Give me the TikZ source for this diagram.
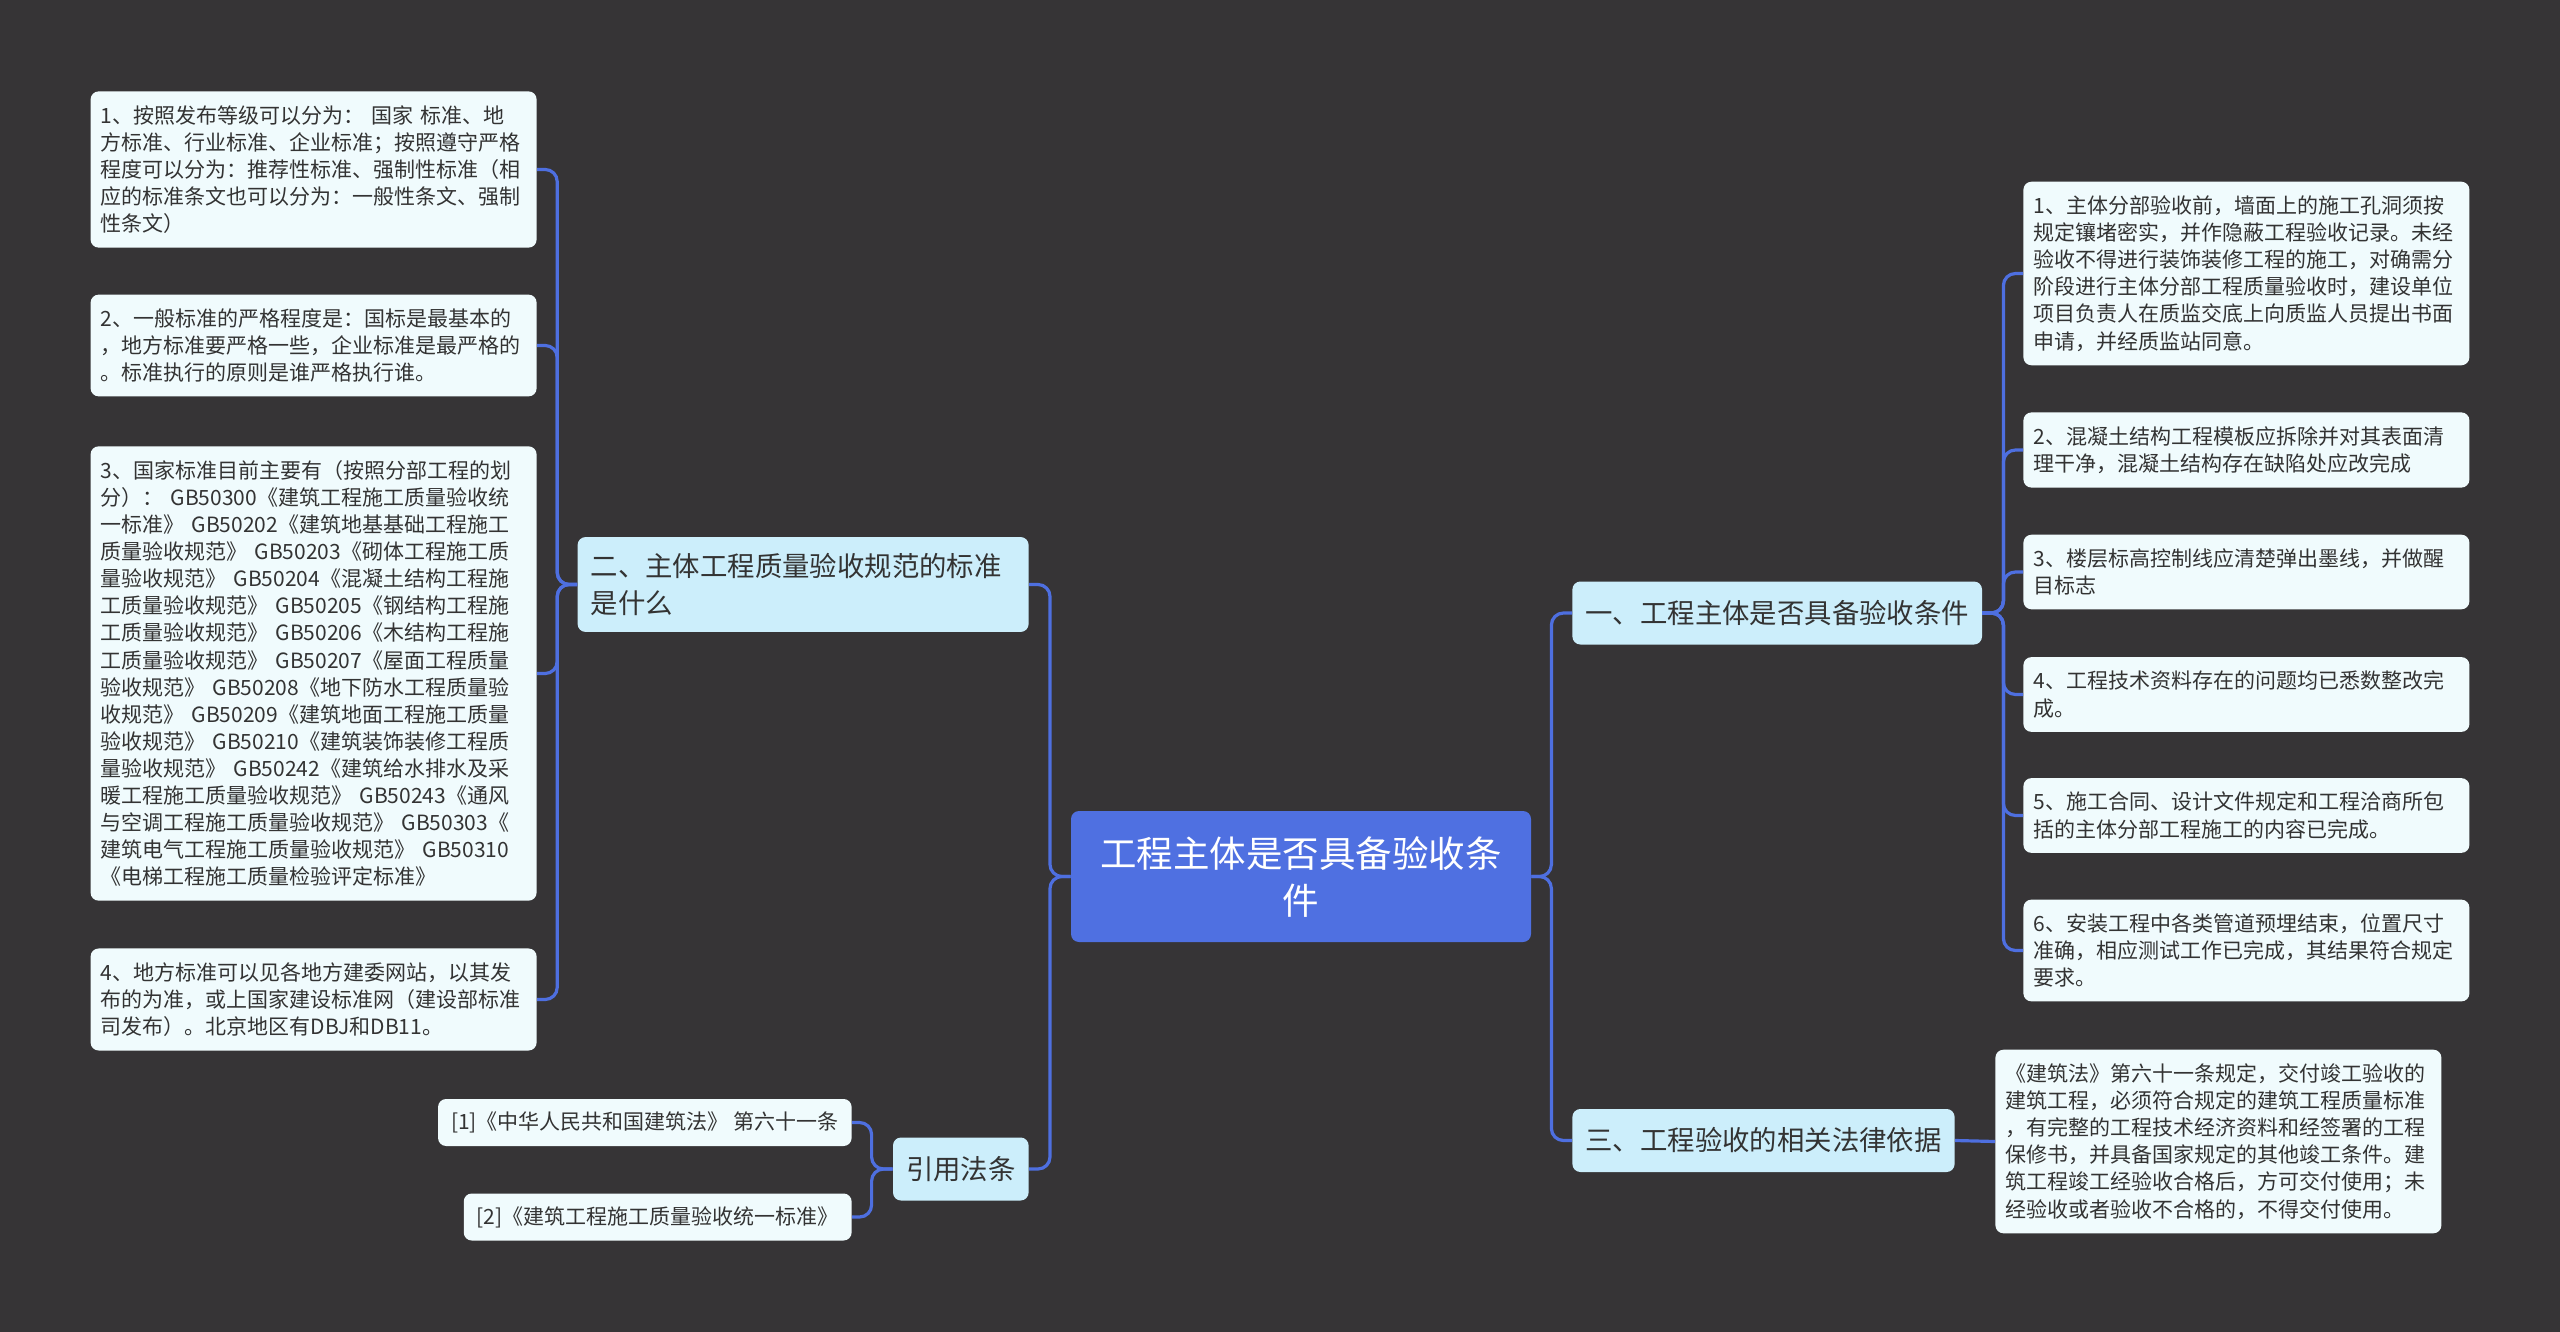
\documentclass[tikz,border=0pt]{standalone}
\usepackage{fontspec}
\newfontfamily\cjk{Noto Sans CJK SC}
\usetikzlibrary{positioning}
\definecolor{bgdark}{HTML}{363436}
\definecolor{linkblue}{HTML}{4E6FE0}
\definecolor{rootblue}{HTML}{4F70E1}
\definecolor{branchfill}{HTML}{CCEEFB}
\definecolor{leaffill}{HTML}{F0FBFD}
\definecolor{inkdark}{HTML}{333333}

\tikzset{
  root/.style={fill=rootblue, text=white, rounded corners=4pt, align=center,
    minimum width=230pt, minimum height=65.5pt, inner sep=0pt,
    font=\cjk\fontsize{18.25}{23.5}\selectfont},
  branch/.style={fill=branchfill, text=inkdark, rounded corners=4pt,
    inner xsep=6.5pt, inner ysep=0pt, minimum height=31.5pt,
    font=\cjk\fontsize{13.7}{18.75}\selectfont},
  leaf/.style={fill=leaffill, text=inkdark, rounded corners=4pt,
    text width=213pt, align=left, inner xsep=5pt, inner ysep=7pt,
    font=\cjk\fontsize{10.5}{13.55}\selectfont},
  cite/.style={fill=leaffill, text=inkdark, rounded corners=4pt,
    inner xsep=6.5pt, inner ysep=0pt, minimum height=23.5pt,
    font=\cjk\fontsize{10.5}{13.55}\selectfont},
  link/.style={draw=linkblue, line width=1.6pt, rounded corners=6pt}
}

\begin{document}
\begin{tikzpicture}[x=0.5pt,y=-0.5pt]
  \fill[bgdark] (0,0) rectangle (2560,1332);

  % centre and main branches
  \node[root] (main) at (1301,876.5) {工程主体是否具备验收条\\件};
  \node[branch, anchor=west] (cond) at (1572,613) {一、工程主体是否具备验收条件};
  \node[branch, anchor=west] (basis) at (1572,1140.5) {三、工程验收的相关法律依据};
  \node[branch, anchor=east, text width=212.5pt, align=left, inner ysep=8pt] (norm) at (1029,584.5) {二、主体工程质量验收规范的标准\\是什么};
  \node[branch, anchor=east] (refs) at (1029,1169) {引用法条};

  % left leaves
  \node[leaf, anchor=east] (n1) at (537,169.5) {1、按照发布等级可以分为： 国家 标准、地\\方标准、行业标准、企业标准；按照遵守严格\\程度可以分为：推荐性标准、强制性标准（相\\应的标准条文也可以分为：一般性条文、强制\\性条文）};
  \node[leaf, anchor=east] (n2) at (537,345.5) {2、一般标准的严格程度是：国标是最基本的\\，地方标准要严格一些，企业标准是最严格的\\。标准执行的原则是谁严格执行谁。};
  \node[leaf, anchor=east] (n3) at (537,673.5) {3、国家标准目前主要有（按照分部工程的划\\分）： GB50300《建筑工程施工质量验收统\\一标准》 GB50202《建筑地基基础工程施工\\质量验收规范》 GB50203《砌体工程施工质\\量验收规范》 GB50204《混凝土结构工程施\\工质量验收规范》 GB50205《钢结构工程施\\工质量验收规范》 GB50206《木结构工程施\\工质量验收规范》 GB50207《屋面工程质量\\验收规范》 GB50208《地下防水工程质量验\\收规范》 GB50209《建筑地面工程施工质量\\验收规范》 GB50210《建筑装饰装修工程质\\量验收规范》 GB50242《建筑给水排水及采\\暖工程施工质量验收规范》 GB50243《通风\\与空调工程施工质量验收规范》 GB50303《\\建筑电气工程施工质量验收规范》 GB50310\\《电梯工程施工质量检验评定标准》};
  \node[leaf, anchor=east] (n4) at (537,999.5) {4、地方标准可以见各地方建委网站，以其发\\布的为准，或上国家建设标准网（建设部标准\\司发布）。北京地区有DBJ和DB11。};

  % citations
  \node[cite, anchor=east] (ref1) at (852,1122.5) {[1]《中华人民共和国建筑法》 第六十一条};
  \node[cite, anchor=east] (ref2) at (852,1217) {[2]《建筑工程施工质量验收统一标准》};

  % right leaves
  \node[leaf, anchor=west] (c1) at (2023,273.5) {1、主体分部验收前，墙面上的施工孔洞须按\\规定镶堵密实，并作隐蔽工程验收记录。未经\\验收不得进行装饰装修工程的施工，对确需分\\阶段进行主体分部工程质量验收时，建设单位\\项目负责人在质监交底上向质监人员提出书面\\申请，并经质监站同意。};
  \node[leaf, anchor=west] (c2) at (2023,450) {2、混凝土结构工程模板应拆除并对其表面清\\理干净，混凝土结构存在缺陷处应改完成};
  \node[leaf, anchor=west] (c3) at (2023,572) {3、楼层标高控制线应清楚弹出墨线，并做醒\\目标志};
  \node[leaf, anchor=west] (c4) at (2023,694.5) {4、工程技术资料存在的问题均已悉数整改完\\成。};
  \node[leaf, anchor=west] (c5) at (2023,815.5) {5、施工合同、设计文件规定和工程洽商所包\\括的主体分部工程施工的内容已完成。};
  \node[leaf, anchor=west] (c6) at (2023,950.5) {6、安装工程中各类管道预埋结束，位置尺寸\\准确，相应测试工作已完成，其结果符合规定\\要求。};
  \node[leaf, anchor=west] (lawtext) at (1995,1141.5) {《建筑法》第六十一条规定，交付竣工验收的\\建筑工程，必须符合规定的建筑工程质量标准\\，有完整的工程技术经济资料和经签署的工程\\保修书，并具备国家规定的其他竣工条件。建\\筑工程竣工经验收合格后，方可交付使用；未\\经验收或者验收不合格的，不得交付使用。};

  % connectors
  \draw[link] (main.east) -- ++(20,0) |- (cond.west);
  \draw[link] (main.east) -- ++(20,0) |- (basis.west);
  \draw[link] (norm.east) -- ++(21,0) |- (main.west);
  \draw[link] (refs.east) -- ++(21,0) |- (main.west);
  \foreach \n in {c1,c2,c3,c4,c5,c6}
    \draw[link] (cond.east) -- ++(21,0) |- (\n.west);
  \foreach \n in {n1,n2,n3,n4}
    \draw[link] (norm.west) -- ++(-20,0) |- (\n.east);
  \foreach \n in {ref1,ref2}
    \draw[link] (refs.west) -- ++(-21,0) |- (\n.east);
  \draw[link] (basis.east) -- (lawtext.west);
\end{tikzpicture}
\end{document}
